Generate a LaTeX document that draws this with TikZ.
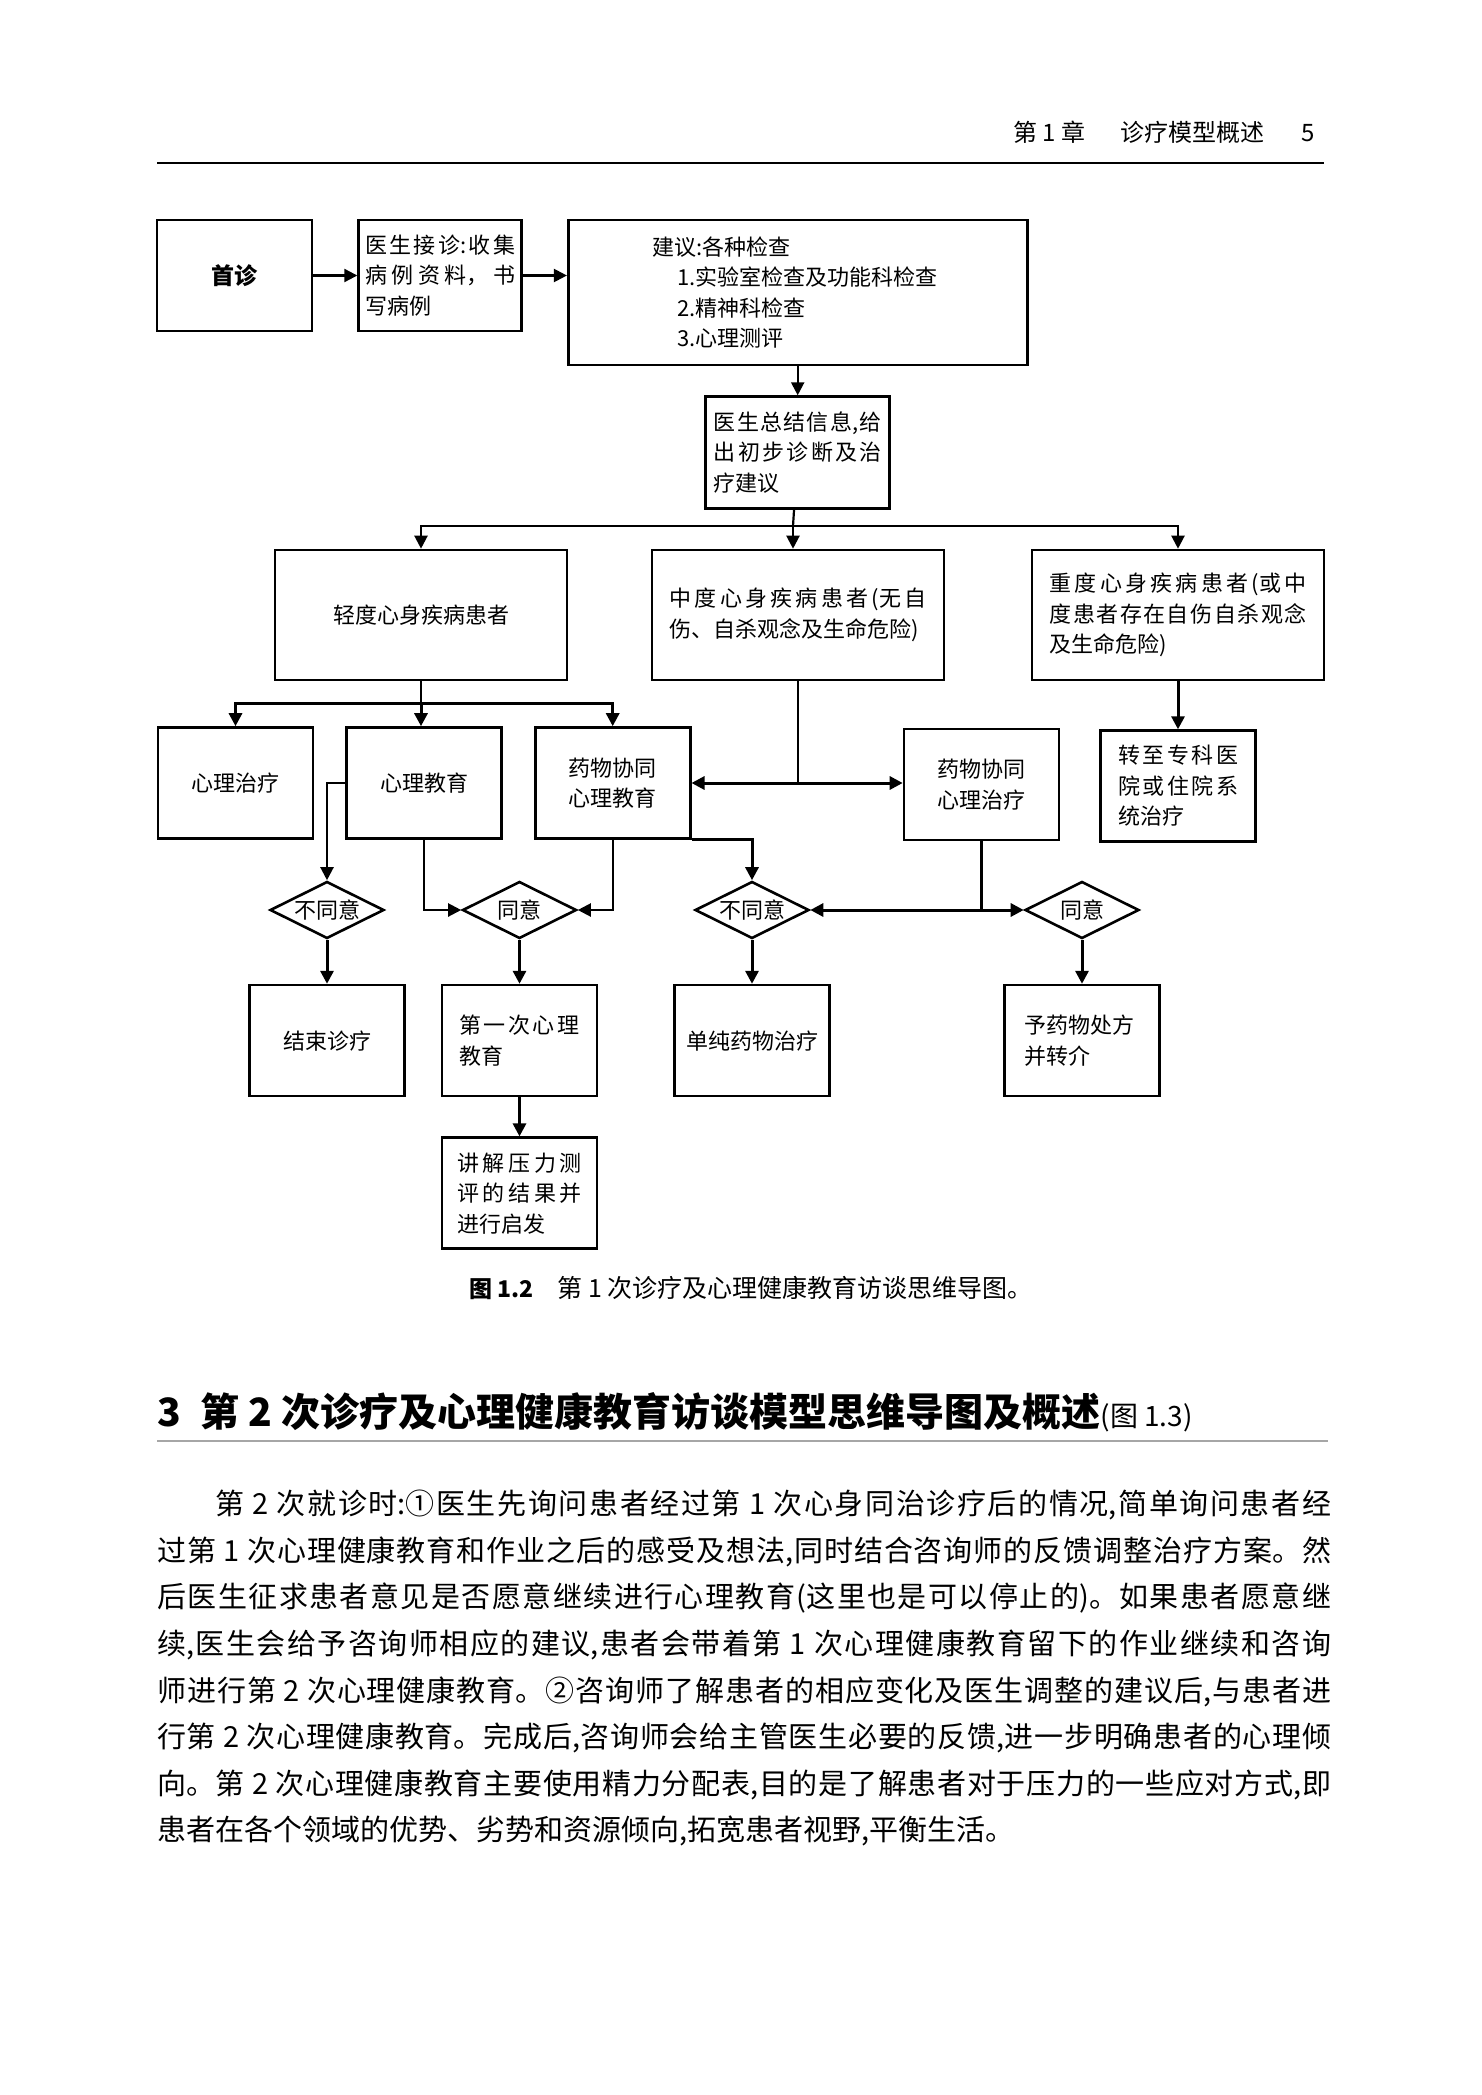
\documentclass[tikz,border=0pt]{standalone}
\usepackage{fontspec}
\setmainfont{Noto Sans CJK SC}
\usetikzlibrary{arrows.meta,positioning,shapes.geometric}
\XeTeXlinebreaklocale "zh"
\XeTeXlinebreakskip=0pt plus 3pt minus 0.3pt

\begin{document}
\begin{tikzpicture}[
      x=1pt, y=-1pt,
      font=\fontsize{22}{30.5}\selectfont,
      box/.style={draw, line width=2.6pt, align=center, inner sep=3pt, minimum width=155pt, minimum height=111pt},
      wide/.style={box, minimum width=292pt, minimum height=130pt},
      dia/.style={draw, diamond, aspect=2, line width=2.6pt, inner sep=0pt, minimum width=114pt, minimum height=57pt},
      line/.style={line width=2.2pt},
      heavy/.style={line width=3pt},
      >={Triangle[length=13pt,width=13pt]}
    ]
    \fill[white] (0,0) rectangle (1481,2095);
    \useasboundingbox (0,0) rectangle (1481,2095);

    % Running head
    \node[anchor=west, inner sep=0pt, font=\fontsize{24}{24}\selectfont] (head) at (1013,132) {第 1 章\hspace{35pt}诊疗模型概述\hspace{37pt}5};
    \draw[line width=2pt] (157,163) -- (1324,163);

    % Row 1
    \node[box, font=\bfseries\fontsize{23}{23}\selectfont] (sz) at (234.5,275.5) {首诊};
    \node[box, minimum width=163pt, text width=150pt, align=justify, right=44pt of sz] (js) {医生接诊:收集\linebreak 病例资料，书\linebreak 写病例};
    \node[box, minimum width=459pt, minimum height=145pt, text width=291pt, align=left, right=44pt of js.north east, anchor=north west] (jy) {建议:各种检查\\\hspace*{25pt}1.实验室检查及功能科检查\\\hspace*{25pt}2.精神科检查\\\hspace*{25pt}3.心理测评};
    \draw[line, ->] (sz) -- (js);
    \draw[line, ->] (js.east) -- (js.east -| jy.west);

    % Summary
    \node[box, minimum width=184pt, minimum height=112pt, text width=168pt, align=justify, below=29pt of jy] (zj) {医生总结信息,给\linebreak 出初步诊断及治\linebreak 疗建议};
    \draw[line, ->] (jy) -- (zj);

    % Row 2
    \node[wide] (qd) at (421,615) {轻度心身疾病患者};
    \node[wide, text width=257pt, align=justify] (zd) at (798,615) {中度心身疾病患者(无自\linebreak 伤、自杀观念及生命危险)};
    \node[wide, text width=257pt, align=justify] (zhd) at (1178,615) {重度心身疾病患者(或中\linebreak 度患者存在自伤自杀观念\linebreak 及生命危险)};
    \coordinate (b1) at (793,526);
    \draw[line] (zj) -- (b1);
    \draw[line, ->] (b1) -| (qd.north);
    \draw[line, ->] (b1) -- (b1 |- zd.north);
    \draw[line, ->] (b1) -| (zhd.north);

    % Row 3
    \node[box] (xlzl) at (235.5,783) {心理治疗};
    \node[box, right=31pt of xlzl] (xljy) {心理教育};
    \node[box, right=31pt of xljy] (ywjy) {药物协同\\心理教育};
    \node[box] (ywzl) at (981.5,784.5) {药物协同\\心理治疗};
    \node[box, text width=120pt, align=justify, below=48pt of zhd] (zz) {转至专科医\linebreak 院或住院系\linebreak 统治疗};
    \coordinate (b2) at (421,703);
    \draw[line] (qd) -- (b2);
    \draw[heavy, ->] (b2) -| (xlzl.north);
    \draw[heavy, ->] (b2) -- (b2 |- xljy.north);
    \draw[heavy, ->] (b2) -| (ywjy.north);
    \draw[line] (zd.south) -- (zd.south |- ywjy.east);
    \draw[heavy, <->] (ywjy.east) -- (ywjy.east -| ywzl.west);
    \draw[heavy, ->] (zhd) -- (zz);

    % Decisions
    \node[dia] (d1) at (327,910) {不同意};
    \node[dia] (d2) at (519.5,910) {同意};
    \node[dia] (d3) at (752,910) {不同意};
    \node[dia] (d4) at (1082,910) {同意};
    \draw[line, ->] (xljy.west) -| (d1.north);
    \draw[line, ->] (xljy.south) |- (d2.west);
    \draw[line, ->] (ywjy.south) |- (d2.east);
    \draw[heavy, ->] (ywjy.south east) -| (d3.north);
    \draw[line] (ywzl.south) -- (ywzl.south |- d4.west);
    \draw[heavy, <->] (d3.east) -- (d4.west);

    % Outcomes
    \node[box, below=44pt of d1] (jszl) {结束诊疗};
    \node[box, text width=120pt, align=justify, below=44pt of d2] (dyc) {第一次心理\linebreak 教育};
    \node[box, below=44pt of d3] (dc) {单纯药物治疗};
    \node[box, text width=115pt, align=left, below=44pt of d4] (yy) {予药物处方\\并转介};
    \node[box, text width=125pt, align=justify, below=39pt of dyc] (jj) {讲解压力测\linebreak 评的结果并\linebreak 进行启发};
    \draw[heavy, ->] (d1) -- (jszl);
    \draw[heavy, ->] (d2) -- (dyc);
    \draw[heavy, ->] (d3) -- (dc);
    \draw[heavy, ->] (d4) -- (yy);
    \draw[heavy, ->] (dyc) -- (jj);

    % Caption
    \node[anchor=west, inner sep=0pt, font=\fontsize{25}{25}\selectfont] (cap) at (469,1288) {{\bfseries\fontsize{23}{23}\selectfont 图 1.2}\hspace{24pt}第 1 次诊疗及心理健康教育访谈思维导图。};

    % Section heading and text
    \node[anchor=west, inner sep=0pt, font=\bfseries\fontsize{39}{39}\selectfont] (sec) at (157,1412) {3\hspace{20pt}第 2 次诊疗及心理健康教育访谈模型思维导图及概述{\mdseries\fontsize{28}{28}\selectfont(图 1.3)}};
    \draw[gray!70, line width=2pt] (157,1441) -- (1328,1441);
    \node[anchor=north west, inner sep=0pt, text width=1174pt, align=justify, font=\fontsize{29}{46.6}\selectfont] (para) at (157,1490) {%
    \hspace*{58pt}第 2 次就诊时:①医生先询问患者经过第 1 次心身同治诊疗后的情况,简单询问患者经\linebreak
    过第 1 次心理健康教育和作业之后的感受及想法,同时结合咨询师的反馈调整治疗方案。然\linebreak
    后医生征求患者意见是否愿意继续进行心理教育(这里也是可以停止的)。如果患者愿意继\linebreak
    续,医生会给予咨询师相应的建议,患者会带着第 1 次心理健康教育留下的作业继续和咨询\linebreak
    师进行第 2 次心理健康教育。②咨询师了解患者的相应变化及医生调整的建议后,与患者进\linebreak
    行第 2 次心理健康教育。完成后,咨询师会给主管医生必要的反馈,进一步明确患者的心理倾\linebreak
    向。第 2 次心理健康教育主要使用精力分配表,目的是了解患者对于压力的一些应对方式,即\linebreak
    患者在各个领域的优势、劣势和资源倾向,拓宽患者视野,平衡生活。};

    \end{tikzpicture}
\end{document}
